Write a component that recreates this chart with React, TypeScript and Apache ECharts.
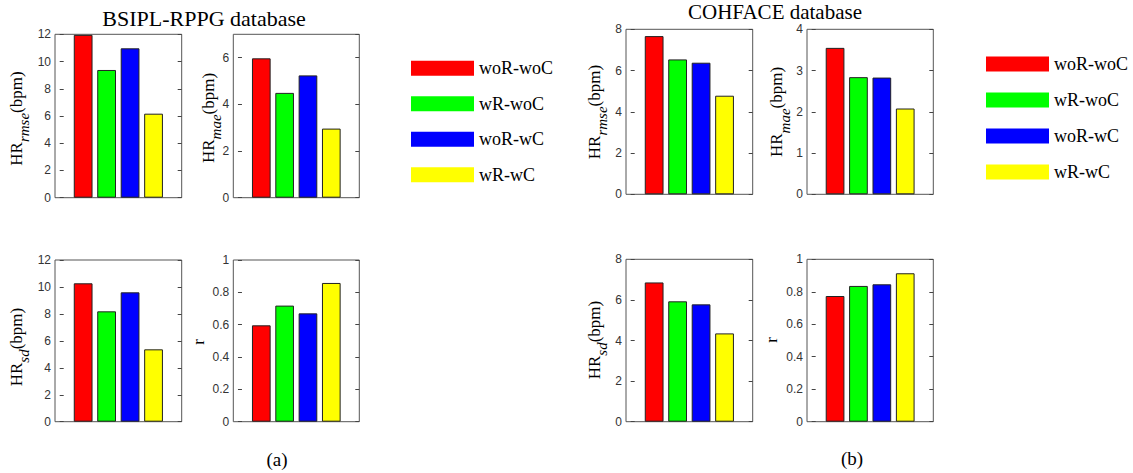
import React, { useEffect, useRef } from "react";
import * as echarts from "echarts";

const methods = ["woR-woC", "wR-woC", "woR-wC", "wR-wC"];
const colors = ["#FF0000", "#00FF00", "#0000FF", "#FFFF00"];
const barPositions = [1, 2, 3, 4];

const bsiplRmse = [11.96, 9.38, 10.97, 6.17];
const bsiplMae = [5.97, 4.49, 5.24, 2.96];
const bsiplSd = [10.27, 8.19, 9.6, 5.37];
const bsiplR = [0.596, 0.718, 0.67, 0.858];
const cohRmse = [7.67, 6.54, 6.38, 4.78];
const cohMae = [3.55, 2.84, 2.83, 2.08];
const cohSd = [6.86, 5.93, 5.78, 4.35];
const cohR = [0.774, 0.836, 0.846, 0.914];

const axisMax = [12, 7, 12, 1, 8, 4, 8, 1];
const axisInterval = [2, 2, 2, 0.2, 2, 1, 2, 0.2];
const subscripts = ["rmse", "mae", "sd", "", "rmse", "mae", "sd", ""];

const SERIF = "'Liberation Serif', 'Times New Roman', serif";
const SANS = "'Liberation Sans', Arial, Helvetica, sans-serif";

export default function App() {
  const ref = useRef<HTMLDivElement>(null);

  useEffect(() => {
    document.body.style.margin = "0";
    if (!ref.current) return;
    const chart = echarts.init(ref.current, null, { renderer: "svg" });

    const panelData = [bsiplRmse, bsiplMae, bsiplSd, bsiplR, cohRmse, cohMae, cohSd, cohR];
    // layout boxes: left, top, width, height
    const boxes = [
      [55, 34.3, 126.7, 163.4],
      [233.3, 34.3, 126, 163.4],
      [55, 260, 126.7, 161.7],
      [233.3, 260, 126, 161.7],
      [626, 29.3, 126.7, 165],
      [807, 29.3, 126.3, 165],
      [626, 259.3, 126.7, 162.4],
      [807, 259.3, 126.3, 162.4],
    ];
    const labelPos = [
      [16, 118.5],
      [208, 118],
      [16, 347],
      [198, 342],
      [594, 112],
      [776.5, 112],
      [594, 340],
      [771, 340],
    ];

    const grid: any[] = [];
    const xAxis: any[] = [];
    const yAxis: any[] = [];
    const series: any[] = [];
    const graphic: any[] = [];

    boxes.forEach((b, p) => {
      grid.push({
        left: b[0],
        top: b[1],
        width: b[2],
        height: b[3],
        show: true,
        borderColor: "#555",
        borderWidth: 1,
        backgroundColor: "transparent",
        containLabel: false,
        outerBoundsMode: "none",
      });
      xAxis.push({
        type: "value",
        gridIndex: p,
        min: -0.2,
        max: 5.2,
        axisLabel: { show: false },
        axisTick: { show: false },
        axisLine: { show: false },
        splitLine: { show: false },
      });
      const ratio = axisMax[p] / axisInterval[p];
      const maxOnTick = Math.abs(ratio - Math.round(ratio)) < 1e-6;
      const yBase = {
        type: "value",
        gridIndex: p,
        min: 0,
        max: axisMax[p],
        interval: axisInterval[p],
        splitLine: { show: false },
        axisLine: { show: false },
        axisTick: { show: true, inside: true, length: 4, lineStyle: { color: "#444", width: 1 } },
      };
      yAxis.push({
        ...yBase,
        position: "left",
        axisLabel: {
          show: true,
          margin: 4,
          color: "#333",
          fontFamily: SANS,
          fontSize: 12,
          showMaxLabel: maxOnTick,
          hideOverlap: false,
          formatter: (v: number) => String(Math.round(v * 10) / 10),
        },
      });
      yAxis.push({
        ...yBase,
        position: "right",
        axisLabel: { show: false },
      });
      const barWidth = (b[2] / 5.4) * 0.8;
      methods.forEach((m, c) => {
        series.push({
          type: "bar",
          name: m,
          xAxisIndex: p,
          yAxisIndex: p * 2,
          barWidth,
          barGap: "-100%",
          data: [[barPositions[c], panelData[p][c]]],
          itemStyle: { color: colors[c], borderColor: "#222", borderWidth: 1 },
        });
      });

      const sub = subscripts[p];
      const txt = sub ? `{a|HR}{s|${sub}}{a|(bpm)}` : "{a|r}";
      graphic.push({
        type: "text",
        x: labelPos[p][0],
        y: labelPos[p][1],
        rotation: Math.PI / 2,
        style: {
          text: txt,
          align: "center",
          verticalAlign: "middle",
          fill: "#000",
          rich: {
            a: { fontFamily: SERIF, fontSize: 17, fill: "#000", color: "#000" },
            s: {
              fontFamily: SERIF,
              fontSize: 15,
              fontStyle: "italic",
              fill: "#000",
              color: "#000",
              padding: [16, 0, 0, 0],
            },
          },
        },
      });
    });

    graphic.push(
      {
        type: "text",
        x: 204,
        y: 18.5,
        style: { text: "BSIPL-RPPG database", font: `22px ${SERIF}`, fill: "#000", align: "center", verticalAlign: "middle" },
      },
      {
        type: "text",
        x: 775,
        y: 12,
        style: { text: "COHFACE database", font: `21px ${SERIF}`, fill: "#000", align: "center", verticalAlign: "middle" },
      },
      {
        type: "text",
        x: 277,
        y: 459,
        style: { text: "(a)", font: `19px ${SERIF}`, fill: "#000", align: "center", verticalAlign: "middle" },
      },
      {
        type: "text",
        x: 852,
        y: 458,
        style: { text: "(b)", font: `19px ${SERIF}`, fill: "#000", align: "center", verticalAlign: "middle" },
      }
    );

    const legendBase = {
      orient: "vertical",
      icon: "rect",
      itemWidth: 63,
      itemHeight: 15,
      padding: 0,
      data: methods,
      selectedMode: false,
      itemStyle: { borderWidth: 0 },
      textStyle: { fontFamily: SERIF, fontSize: 18, color: "#000", lineHeight: 15 },
    };

    chart.setOption({
      animation: false,
      backgroundColor: "#fff",
      grid,
      xAxis,
      yAxis,
      series,
      graphic,
      legend: [
        { ...legendBase, left: 411, top: 59.3, itemGap: 17.5 },
        { ...legendBase, left: 986, top: 55, itemGap: 18 },
      ],
    });

    return () => chart.dispose();
  }, []);

  return <div ref={ref} style={{ width: 1133, height: 473 }} />;
}
